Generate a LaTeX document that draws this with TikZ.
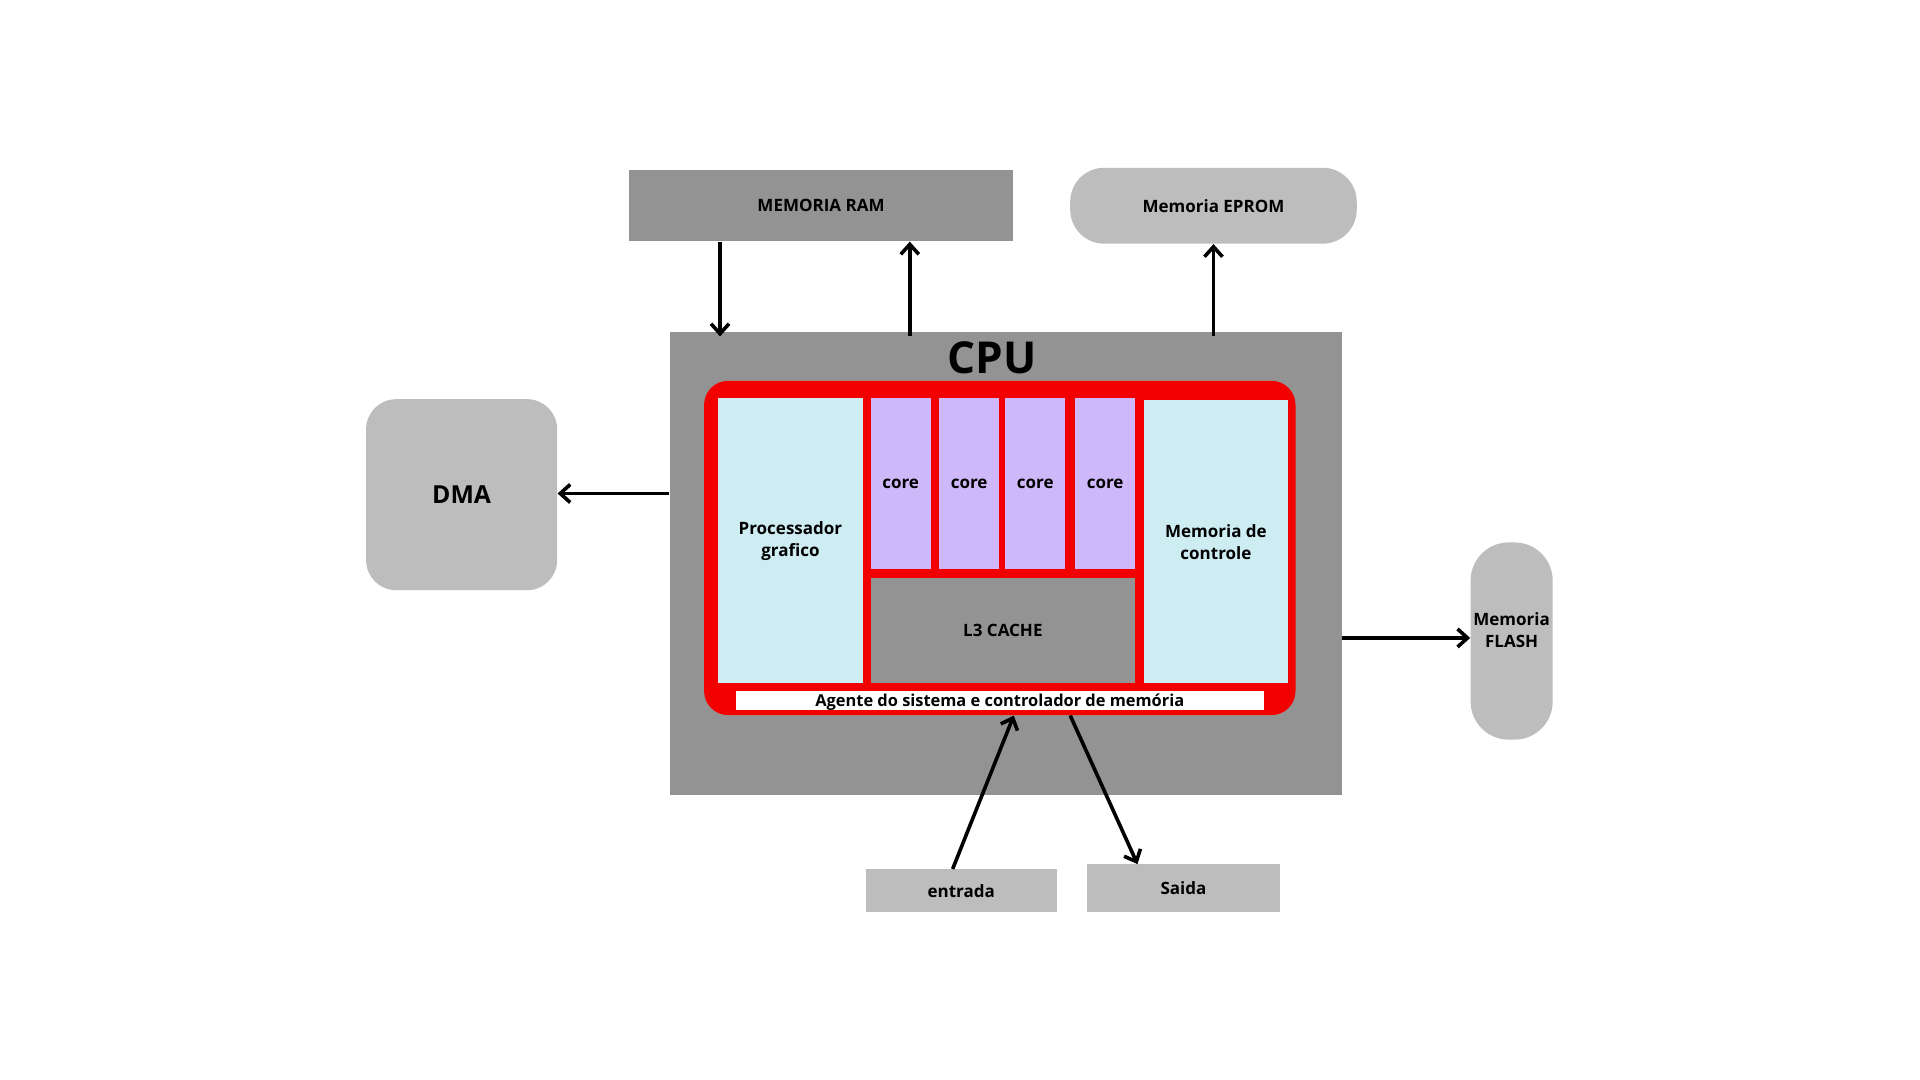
\documentclass[tikz,border=0pt]{standalone}
\usepackage{fontspec}
\setmainfont{Open Sans}
\usetikzlibrary{arrows.meta,fit}
\definecolor{gA}{HTML}{939393}
\definecolor{gB}{HTML}{BDBDBD}
\definecolor{chipred}{HTML}{F20000}
\definecolor{lblue}{HTML}{CEEDF3}
\definecolor{lpurple}{HTML}{CFB8FA}
\begin{document}
\begin{tikzpicture}[x=0.6122pt,y=-0.6122pt,
  blk/.style={inner sep=0pt, draw=none, align=center, text=black,
    font=\bfseries\fontsize{8.5}{11}\selectfont},
  txt/.style={label={[blk]center:#1}},
  dark/.style={blk, fill=gA},
  light/.style={blk, fill=gB},
  arr/.style={line width=1.8pt, -{Straight Barb[length=5pt,width=9pt,line width=1.8pt]}}]
\fill[white] (0,0) rectangle (1568,882);
\useasboundingbox (0,0) rectangle (1568,882);
% outer blocks
\node[dark, fit={(514,139)(827,197)}, txt={MEMORIA RAM}] (ram) {};
\node[light, rounded corners=17pt, fit={(874,137)(1108,199)}, txt={Memoria EPROM}] (eprom) {};
\node[dark, fit={(547,271)(1096,649)}] (cpu) {};
\node[light, rounded corners=15pt, fit={(299,326)(455,482)},
  label={[blk, font=\bfseries\fontsize{12.4}{14}\selectfont]center:DMA}] (dma) {};
\node[light, rounded corners=19pt, fit={(1201,443)(1268,604)},
  label={[blk, yshift=5.5pt]center:Memoria\\FLASH}] (flash) {};
\node[light, fit={(707,710)(863,745)}, txt={entrada}] (entrada) {};
\node[light, fit={(888,706)(1045,745)}, txt={Saida}] (saida) {};
% CPU contents
\node[blk, font=\bfseries\fontsize{22}{24}\selectfont] (cputxt) at (810,292) {CPU};
\node[blk, fill=chipred, rounded corners=12pt, fit={(575,311)(1058,584)}] (chip) {};
\node[blk, fill=lblue, fit={(586,325)(705,558)}, txt={Processador\\grafico}] (proc) {};
\node[blk, fill=lpurple, fit={(711,325)(760,465)}, txt={core}] (core1) {};
\node[blk, fill=lpurple, fit={(767,325)(816,465)}, txt={core}] (core2) {};
\node[blk, fill=lpurple, fit={(821,325)(870,465)}, txt={core}] (core3) {};
\node[blk, fill=lpurple, fit={(878,325)(927,465)}, txt={core}] (core4) {};
\node[dark, fit={(711,472)(927,558)}, txt={L3 CACHE}] (l3) {};
\node[blk, fill=white, fit={(934,327)(1052,558)}, fill=lblue, txt={Memoria de\\controle}] (memctl) {};
\node[blk, fill=white, fit={(601,564)(1032,580)},
  label={[blk, yshift=-1.1pt, font=\bfseries\fontsize{8.2}{10}\selectfont]center:Agente do sistema e controlador de memória}] (agente) {};
% connectors
\coordinate (xa) at (588,0);
\coordinate (xb) at (743,0);
\coordinate (xc) at (991,0);
\coordinate (yd) at (0,403);
\coordinate (yf) at (0,521);
\draw[arr, shorten >=-2.5pt] (ram.south -| xa) -- (cpu.north -| xa);
\draw[arr, shorten <=-2.5pt] (cpu.north -| xb) -- (ram.south -| xb);
\draw[arr, shorten <=-2.5pt] (cpu.north -| xc) -- (eprom.south -| xc);
\draw[arr] (cpu.west |- yd) -- (dma.east |- yd);
\draw[arr] (cpu.east |- yf) -- (flash.west |- yf);
\draw[arr] ([xshift=-4.3pt]entrada.north) -- ([xshift=7pt]chip.south);
\draw[arr] ([xshift=35.2pt]chip.south) -- ([xshift=-23pt]saida.north);
\end{tikzpicture}
\end{document}
